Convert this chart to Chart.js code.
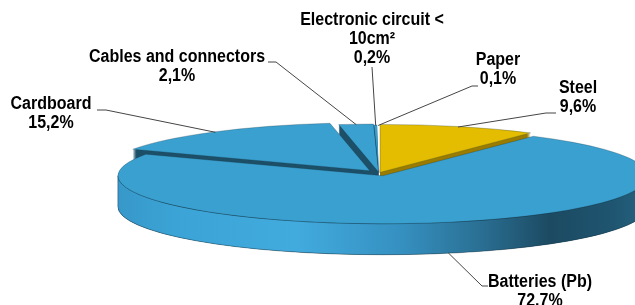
<!DOCTYPE html>
<html><head><meta charset="utf-8">
<script src="https://cdn.jsdelivr.net/npm/chart.js@4/dist/chart.umd.min.js"></script>
<style>html,body{margin:0;padding:0;background:#fff;overflow:hidden}canvas{display:block}</style>
</head><body>
<canvas id="c" width="635" height="305"></canvas>
<script>
// ---- data ----
const categories = ['Steel', 'Batteries (Pb)', 'Cardboard', 'Cables and connectors', 'Electronic circuit < 10cm²', 'Paper'];
const shares = [9.6, 72.7, 15.2, 2.1, 0.2, 0.1];
const shareLabels = ['9,6%', '72.7%', '15,2%', '2,1%', '0,2%', '0,1%'];
const nameLines = [['Steel'], ['Batteries (Pb)'], ['Cardboard'], ['Cables and connectors'], ['Electronic circuit <', '10cm²'], ['Paper']];

// ---- style ----
const topColors = ['#e4bd00', '#3aa0d0', '#3aa0d0', '#3aa0d0', '#3aa0d0', '#ffffff'];
const sideColors = ['#9a7c00', '#1d5068', '#1d5068', '#1d5068', '#1d5068', '#ffffff'];
const explode = [2, 9, 9, 3, 0, 0];
const VIEW = { cx: 379, cy: 173, R: 265, r: 48, depth: 31 };
const labelLayout = [
  { x: 578, y: 88, end: [556, 113], elbow: [546, 113] },
  { x: 540, y: 282, end: [488, 286], elbow: [482, 286] },
  { x: 51, y: 104, end: [97, 110], elbow: [106, 110] },
  { x: 177, y: 57, end: [268, 62], elbow: [276, 62] },
  { x: 372, y: 20, end: [372, 67], elbow: [372, 67] },
  { x: 498, y: 60, end: [478, 86], elbow: [472, 86] }
];

function viewOf(chart) {
  const arcs = chart.getDatasetMeta(0).data;
  const ro = arcs[0].outerRadius;
  return { arcs, sx: VIEW.R / ro, sy: VIEW.r / ro };
}
function setT(ctx, v, i, dy) {
  const arc = v.arcs[i];
  const half = (arc.startAngle + arc.endAngle) / 2;
  const ex = Math.cos(half) * explode[i], ey = Math.sin(half) * explode[i];
  ctx.setTransform(v.sx, 0, 0, v.sy, VIEW.cx - v.sx * (arc.x - ex), VIEW.cy + dy - v.sy * (arc.y - ey));
}

const pie3d = {
  id: 'pie3d',
  beforeDatasetDraw(chart) {
    const ctx = chart.ctx;
    const v = viewOf(chart);
    const n = v.arcs.length;
    ctx.save();
    // depth stamps
    for (let d = VIEW.depth; d >= 1; d--) {
      for (let i = 0; i < n; i++) {
        const arc = v.arcs[i];
        setT(ctx, v, i, d);
        ctx.beginPath();
        ctx.moveTo(arc.x, arc.y);
        ctx.arc(arc.x, arc.y, arc.outerRadius, arc.startAngle, arc.endAngle);
        ctx.closePath();
        ctx.setTransform(1, 0, 0, 1, 0, 0);
        ctx.fillStyle = sideColors[i];
        ctx.fill();
      }
    }
    // front outer walls
    const grad = ctx.createLinearGradient(110, 0, 640, 0);
    grad.addColorStop(0, '#3796c8');
    grad.addColorStop(0.12, '#3ba3d5');
    grad.addColorStop(0.35, '#42abde');
    grad.addColorStop(0.55, '#3590c0');
    grad.addColorStop(0.7, '#2a6f93');
    grad.addColorStop(0.83, '#1c4a62');
    grad.addColorStop(0.95, '#1f5570');
    grad.addColorStop(1, '#24607e');
    for (let i = 0; i < n; i++) {
      const arc = v.arcs[i];
      const a1 = Math.max(arc.startAngle, 0), a2 = Math.min(arc.endAngle, Math.PI);
      if (a2 <= a1) continue;
      setT(ctx, v, i, 0);
      const dd = VIEW.depth / v.sy;
      ctx.beginPath();
      ctx.arc(arc.x, arc.y, arc.outerRadius, a1, a2);
      ctx.arc(arc.x, arc.y + dd, arc.outerRadius, a2, a1, true);
      ctx.closePath();
      ctx.setTransform(1, 0, 0, 1, 0, 0);
      ctx.fillStyle = i === 0 ? sideColors[0] : grad;
      ctx.fill();
      ctx.strokeStyle = 'rgba(15,45,60,0.55)';
      ctx.lineWidth = 0.7;
      ctx.stroke();
    }
    // top faces
    for (let i = 0; i < n; i++) {
      const arc = v.arcs[i];
      setT(ctx, v, i, 0);
      arc.draw(ctx);
      setT(ctx, v, i, 0);
      ctx.beginPath();
      ctx.moveTo(arc.x, arc.y);
      ctx.arc(arc.x, arc.y, arc.outerRadius, arc.startAngle, arc.endAngle);
      ctx.closePath();
      ctx.setTransform(1, 0, 0, 1, 0, 0);
      if (i !== n - 1) {
        ctx.strokeStyle = 'rgba(20,50,65,0.45)';
        ctx.lineWidth = 0.6;
        ctx.stroke();
      }
    }
    ctx.restore();
    return false;
  },
  afterDraw(chart) {
    const ctx = chart.ctx;
    const v = viewOf(chart);
    ctx.save();
    ctx.setTransform(1, 0, 0, 1, 0, 0);
    v.arcs.forEach((arc, i) => {
      const L = labelLayout[i];
      const half = (arc.startAngle + arc.endAngle) / 2;
      const ex = Math.cos(half) * explode[i], ey = Math.sin(half) * explode[i];
      const rr = arc.outerRadius * 0.99;
      const px = VIEW.cx + v.sx * (ex + Math.cos(half) * rr);
      let py = VIEW.cy + v.sy * (ey + Math.sin(half) * rr);
      if (Math.sin(half) > 0.3) py += VIEW.depth;
      ctx.beginPath();
      ctx.moveTo(px, py);
      ctx.lineTo(L.elbow[0], L.elbow[1]);
      ctx.lineTo(L.end[0], L.end[1]);
      ctx.strokeStyle = '#454545';
      ctx.lineWidth = 1;
      ctx.stroke();
      ctx.fillStyle = '#000';
      ctx.font = 'bold 16px "Liberation Sans", Arial, sans-serif';
      ctx.textAlign = 'center';
      ctx.textBaseline = 'middle';
      const lines = nameLines[i].concat([shareLabels[i]]);
      lines.forEach((t, k) => {
        ctx.save();
        ctx.translate(L.x, L.y + k * 19);
        ctx.scale(1, 1.1);
        ctx.fillText(t, 0, 0);
        ctx.restore();
      });
    });
    ctx.restore();
  }
};

new Chart(document.getElementById('c'), {
  type: 'pie',
  data: {
    labels: categories,
    datasets: [{ data: shares, backgroundColor: topColors, borderWidth: 0 }]
  },
  options: {
    responsive: false,
    animation: false,
    devicePixelRatio: 1,
    layout: { padding: 0 },
    plugins: { legend: { display: false }, tooltip: { enabled: false } }
  },
  plugins: [pie3d]
});
</script>
</body></html>
